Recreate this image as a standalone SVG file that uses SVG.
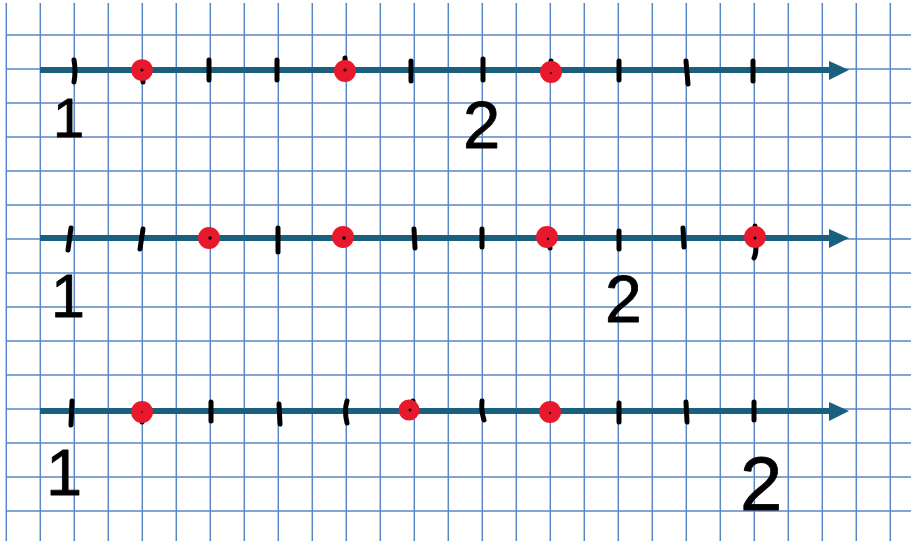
<svg xmlns="http://www.w3.org/2000/svg" width="911" height="541" viewBox="0 0 911 541">
<style>
.grid line{stroke:#5a87c6;stroke-width:1.5}
.axis{stroke:#19607f;stroke-width:6}
.head{fill:#19607f}
.tick{stroke:#000;stroke-width:5;stroke-linecap:round;fill:none}
.dot{fill:#e8192c}
.ctr{fill:#000}
.num{font-family:"Liberation Sans",Arial,sans-serif;fill:#000;stroke:#000;stroke-width:0.8;stroke-linejoin:round}
</style>
<rect width="911" height="541" fill="#fff"/>
<g id="grid" class="grid">
<line x1="6.3" y1="3" x2="6.3" y2="541"/><line x1="40.3" y1="3" x2="40.3" y2="541"/><line x1="74.3" y1="3" x2="74.3" y2="541"/><line x1="108.3" y1="3" x2="108.3" y2="541"/><line x1="142.3" y1="3" x2="142.3" y2="541"/><line x1="176.3" y1="3" x2="176.3" y2="541"/><line x1="210.3" y1="3" x2="210.3" y2="541"/><line x1="244.3" y1="3" x2="244.3" y2="541"/><line x1="278.3" y1="3" x2="278.3" y2="541"/><line x1="312.3" y1="3" x2="312.3" y2="541"/><line x1="346.3" y1="3" x2="346.3" y2="541"/><line x1="380.3" y1="3" x2="380.3" y2="541"/><line x1="414.3" y1="3" x2="414.3" y2="541"/><line x1="448.3" y1="3" x2="448.3" y2="541"/><line x1="482.3" y1="3" x2="482.3" y2="541"/><line x1="516.3" y1="3" x2="516.3" y2="541"/><line x1="550.3" y1="3" x2="550.3" y2="541"/><line x1="584.3" y1="3" x2="584.3" y2="541"/><line x1="618.3" y1="3" x2="618.3" y2="541"/><line x1="652.3" y1="3" x2="652.3" y2="541"/><line x1="686.3" y1="3" x2="686.3" y2="541"/><line x1="720.3" y1="3" x2="720.3" y2="541"/><line x1="754.3" y1="3" x2="754.3" y2="541"/><line x1="788.3" y1="3" x2="788.3" y2="541"/><line x1="822.3" y1="3" x2="822.3" y2="541"/><line x1="856.3" y1="3" x2="856.3" y2="541"/><line x1="890.3" y1="3" x2="890.3" y2="541"/>
<line x1="6.3" y1="35" x2="911" y2="35"/><line x1="6.3" y1="69" x2="911" y2="69"/><line x1="6.3" y1="103" x2="911" y2="103"/><line x1="6.3" y1="137" x2="911" y2="137"/><line x1="6.3" y1="171" x2="911" y2="171"/><line x1="6.3" y1="205" x2="911" y2="205"/><line x1="6.3" y1="239" x2="911" y2="239"/><line x1="6.3" y1="273" x2="911" y2="273"/><line x1="6.3" y1="307" x2="911" y2="307"/><line x1="6.3" y1="341" x2="911" y2="341"/><line x1="6.3" y1="375" x2="911" y2="375"/><line x1="6.3" y1="409" x2="911" y2="409"/><line x1="6.3" y1="443" x2="911" y2="443"/><line x1="6.3" y1="477" x2="911" y2="477"/><line x1="6.3" y1="511" x2="911" y2="511"/>
</g>

<g id="line1">
<line class="axis" x1="40" y1="70" x2="832" y2="70"/>
<polygon class="head" points="829,61 849,70 829,80"/>
<path class="tick" d="M74,60 Q76,71 74,82"/>
<line class="tick" x1="143" y1="78" x2="143" y2="82"/>
<line class="tick" x1="209" y1="60" x2="209" y2="80"/>
<line class="tick" x1="277" y1="60" x2="277" y2="80"/>
<line class="tick" x1="345" y1="58" x2="345" y2="62"/>
<line class="tick" x1="411" y1="61" x2="411" y2="81"/>
<line class="tick" x1="483" y1="59" x2="483" y2="80"/>
<line class="tick" x1="551" y1="61" x2="551" y2="64"/>
<line class="tick" x1="619" y1="61" x2="619" y2="80"/>
<line class="tick" x1="686" y1="61" x2="688" y2="84"/>
<line class="tick" x1="753" y1="61" x2="753" y2="81"/>
<circle class="dot" cx="142" cy="70" r="10.8"/><circle class="ctr" cx="142" cy="70" r="1.6"/>
<circle class="dot" cx="345" cy="71" r="11"/><circle class="ctr" cx="345" cy="70" r="1.6"/>
<circle class="dot" cx="551" cy="72" r="11"/><circle class="ctr" cx="551" cy="73" r="1"/>
<text class="num" x="53" y="137" font-size="56">1</text>
<text class="num" x="463" y="148" font-size="67">2</text>
</g>

<g id="line2">
<line class="axis" x1="40" y1="238" x2="832" y2="238"/>
<polygon class="head" points="829,229 849,238 829,248"/>
<line class="tick" x1="71" y1="228" x2="68" y2="250"/>
<line class="tick" x1="143" y1="229" x2="140" y2="249"/>
<line class="tick" x1="278" y1="228" x2="278" y2="252"/>
<line class="tick" x1="414" y1="229" x2="415" y2="248"/>
<line class="tick" x1="482" y1="229" x2="482" y2="247"/>
<line class="tick" x1="549" y1="244" x2="550" y2="248"/>
<line class="tick" x1="619" y1="231" x2="619" y2="249"/>
<line class="tick" x1="683" y1="228" x2="684" y2="247"/>
<path class="tick" d="M755,226 L756,248 Q756,254 754,258"/>
<circle class="dot" cx="209" cy="238" r="11"/><circle class="ctr" cx="210" cy="238" r="1.8"/>
<circle class="dot" cx="343" cy="237" r="11"/><circle class="ctr" cx="344" cy="238" r="1.8"/>
<circle class="dot" cx="547" cy="237" r="11"/><circle class="ctr" cx="548" cy="239" r="1.2"/>
<circle class="dot" cx="755" cy="237" r="11"/><circle class="ctr" cx="755" cy="238" r="1.6"/>
<text class="num" x="51" y="317" font-size="61">1</text>
<text class="num" x="605" y="322" font-size="66">2</text>
</g>

<g id="line3">
<line class="axis" x1="40" y1="411" x2="832" y2="411"/>
<polygon class="head" points="829,402 849,411 829,421"/>
<line class="tick" x1="72" y1="401" x2="71" y2="425"/>
<line class="tick" x1="142" y1="420" x2="142" y2="422"/>
<line class="tick" x1="211" y1="402" x2="211" y2="421"/>
<line class="tick" x1="279" y1="404" x2="280" y2="424"/>
<path class="tick" d="M347,401 Q344,411 347,423"/>
<line class="tick" x1="413" y1="401" x2="413" y2="404"/>
<path class="tick" d="M482,401 Q481,411 484,420"/>
<line class="tick" x1="619" y1="403" x2="619" y2="422"/>
<line class="tick" x1="686" y1="402" x2="687" y2="422"/>
<line class="tick" x1="754" y1="402" x2="754" y2="420"/>
<circle class="dot" cx="142" cy="412" r="11"/><circle class="ctr" cx="142" cy="412" r="0.8"/>
<circle class="dot" cx="409" cy="410" r="10.5"/><circle class="ctr" cx="410" cy="410" r="1.5"/>
<circle class="dot" cx="550" cy="412" r="11"/><circle class="ctr" cx="550" cy="413" r="1"/>
<text class="num" x="46" y="495" font-size="65">1</text>
<text class="num" x="740" y="510" font-size="76">2</text>
</g>
</svg>
